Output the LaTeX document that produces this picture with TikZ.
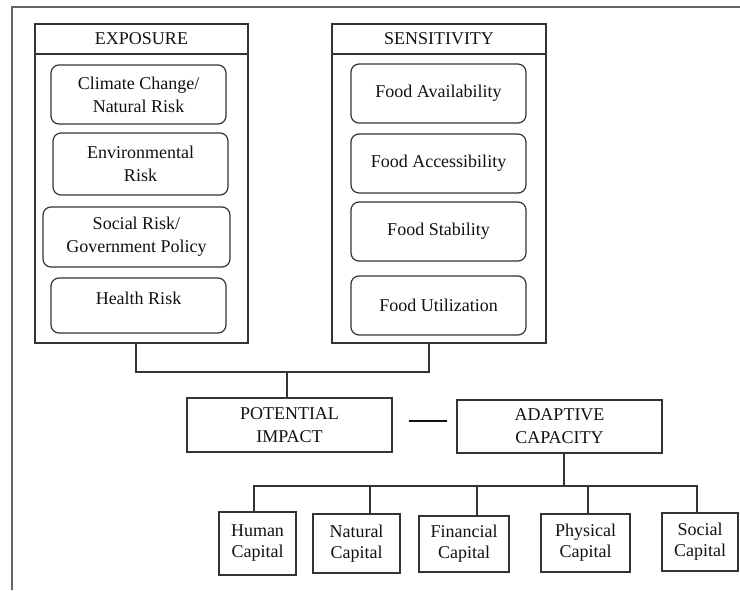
\documentclass[tikz,border=0pt]{standalone}
\usepackage{fontspec}
\setmainfont{Liberation Serif}
\definecolor{linec}{HTML}{333333}
\definecolor{framec}{HTML}{666666}
\definecolor{textc}{HTML}{111111}
\tikzset{
  base/.style={draw=linec, line width=1.2pt, text=textc, align=center, inner sep=2pt,
     font=\fontsize{18}{23}\selectfont},
  panel/.style={base},
  headbox/.style={base},
  rbox/.style={base, rounded corners=8pt, minimum width=175pt},
  sqbox/.style={base},
  capbox/.style={base, font=\fontsize{18}{21}\selectfont},
  txt/.style={text=textc, align=center, inner sep=0pt, font=\fontsize{18}{23}\selectfont},
  conn/.style={draw=linec, line width=1.2pt},
}
\begin{document}
\begin{tikzpicture}[x=1pt, y=-1pt]
\useasboundingbox (0,0) rectangle (740,590);
% outer frame (top and left edges)
\coordinate (fa) at (12,590);
\coordinate (fb) at (12,7);
\coordinate (fc) at (740,7);
\draw[draw=framec, line width=1.5pt] (fa) -- (fb) -- (fc);

% EXPOSURE panel
\node[panel, minimum width=213pt, minimum height=319pt] (exp) at (141.5,183.5) {};
\node[headbox, minimum width=213pt, minimum height=30pt] (exph) at (141.5,39) {EXPOSURE};
\node[rbox, minimum height=59pt] (c1) at (138.5,94.5) {Climate Change/\\Natural Risk};
\node[rbox, minimum height=62pt] (c2) at (140.5,164) {Environmental\\Risk};
\node[rbox, minimum width=187pt, minimum height=60pt] (c3) at (136.5,237) {Social Risk/\\Government Policy};
\node[rbox, minimum height=55pt] (c4) at (138.5,305.5) {};
\node[txt] (c4t) at (138.5,298) {Health Risk};

% SENSITIVITY panel
\node[panel, minimum width=214pt, minimum height=319pt] (sen) at (439,183.5) {};
\node[headbox, minimum width=214pt, minimum height=30pt] (senh) at (439,39) {SENSITIVITY};
\node[rbox, minimum height=59pt] (s1) at (438.5,93.5) {Food Availability};
\node[rbox, minimum height=59pt] (s2) at (438.5,163.5) {Food Accessibility};
\node[rbox, minimum height=59pt] (s3) at (438.5,231.5) {Food Stability};
\node[rbox, minimum height=59pt] (s4) at (438.5,305.5) {Food Utilization};

% middle row
\node[sqbox, minimum width=205pt, minimum height=54pt] (pi) at (289.5,425) {POTENTIAL\\IMPACT};
\node[sqbox, minimum width=205pt, minimum height=53pt] (ac) at (559.5,426.5) {ADAPTIVE\\CAPACITY};

% capitals
\node[capbox, minimum width=77pt, minimum height=63pt] (hc) at (257.5,543.5) {Human\\Capital};
\node[capbox, minimum width=87pt, minimum height=59pt] (nc) at (356.5,543.5) {Natural\\Capital};
\node[capbox, minimum width=90pt, minimum height=56pt] (fcap) at (464,544) {Financial\\Capital};
\node[capbox, minimum width=89pt, minimum height=58pt] (pc) at (585.5,543) {Physical\\Capital};
\node[capbox, minimum width=76pt, minimum height=58pt] (sc) at (700,542) {Social\\Capital};

% connectors: exposure/sensitivity -> potential impact
\coordinate (j1) at (136,372);
\coordinate (j2) at (429,372);
\coordinate (j0) at (287,372);
\draw[conn] (exp.south -| j1) -- (j1) -- (j2) -- (sen.south -| j2);
\draw[conn] (j0) -- (pi.north -| j0);

% dash between potential impact and adaptive capacity
\coordinate (d1) at (409,421);
\coordinate (d2) at (447,421);
\draw[draw=textc, line width=2.4pt] (d1) -- (d2);

% adaptive capacity -> capitals
\coordinate (k0) at (564,486);
\coordinate (kl) at (254,486);
\coordinate (kr) at (697,486);
\coordinate (kn) at (370,486);
\coordinate (kf) at (477,486);
\coordinate (kp) at (588,486);
\draw[conn] (ac.south -| k0) -- (k0);
\draw[conn] (hc.north -| kl) -- (kl) -- (kr) -- (sc.north -| kr);
\draw[conn] (kn) -- (nc.north -| kn);
\draw[conn] (kf) -- (fcap.north -| kf);
\draw[conn] (kp) -- (pc.north -| kp);
\end{tikzpicture}
\end{document}
